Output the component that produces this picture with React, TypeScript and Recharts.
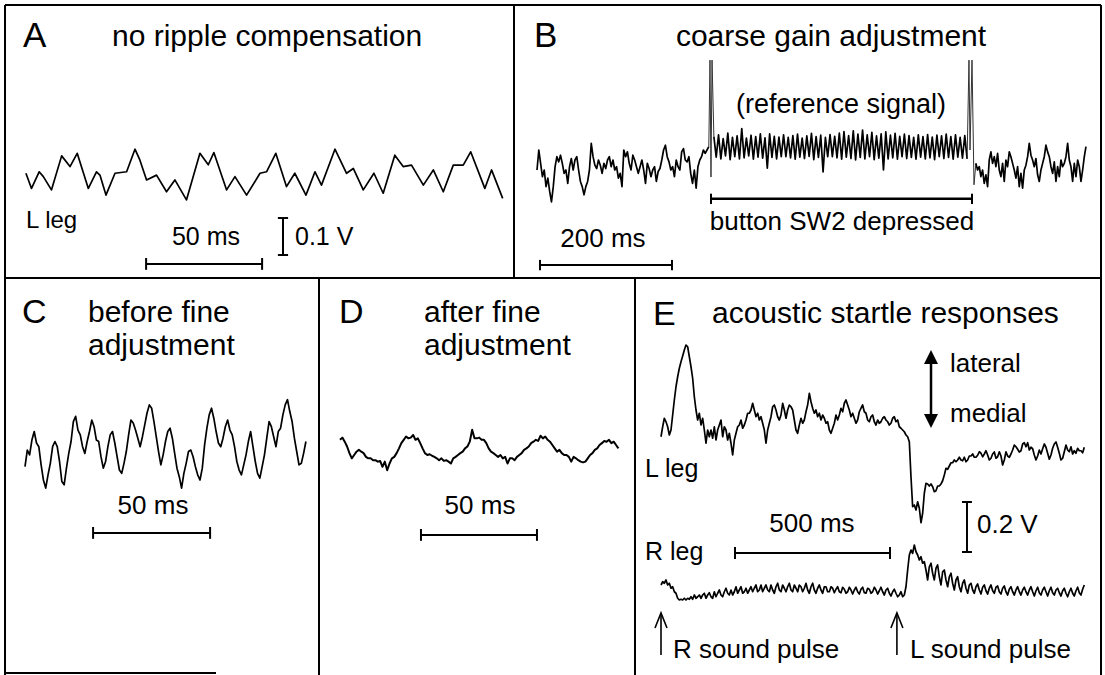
import React from "react";
import { LineChart, Line, XAxis, YAxis, ReferenceLine, ReferenceDot } from "recharts";

const W = 1105;
const H = 675;
const FONT = '"Liberation Sans", Arial, Helvetica, sans-serif';

// ---------- Panel A: no ripple compensation (t in ms, v in mV) ----------
const aTime = [0.4, 2.8, 6.1, 7.9, 11.4, 15.8, 19.4, 22.5, 27.3, 30.8, 32.3, 34.9, 38.8, 43.8, 47.4, 49.5, 52.4, 56.7, 61.0, 64.6, 69.6, 75.4, 79.0, 81.4, 86.9, 90.5, 95.5, 101.3, 104.1, 108.1, 112.7, 116.3, 121.1, 125.0, 127.8, 133.6, 138.6, 141.5, 145.8, 150.4, 154.4, 159.4, 163.0, 166.6, 171.7, 176.0, 180.3, 184.6, 188.9, 192.1, 198.2, 201.1, 205.9];
const aValue = [2, -39, 6, -7, -43, 49, 20, 56, -39, 6, -3, -57, 2, 6, 67, 38, -16, -3, -48, -16, -70, 56, 25, 58, -43, -7, -57, 2, 6, 56, -34, 2, -57, 6, -30, 67, 2, 15, -43, 2, -52, 51, 20, 24, -30, 11, -48, 24, 24, 60, -39, 11, -66];

// ---------- Panel B: coarse gain adjustment ----------
const bLeft = [0, 54, 18, -18, 0, -45, -22, -58, -86, -45, 9, 36, 22, 40, 18, -9, 0, -36, 9, 31, 0, 27, 36, 0, -31, -45, -67, -45, -31, 0, 72, 36, 13, 4, 27, 13, -9, 18, 4, 27, 36, 9, 27, 0, 9, -22, -9, -45, 54, 36, 49, 18, 0, 40, 27, 9, -9, 9, 27, 0, -36, 18, 4, -18, 0, 9, -31, -4, 4, 27, 54, 67, 36, 22, 0, 9, -18, 27, 9, 0, 49, 58, 27, 22, 36, -9, -36, 0, -49, 9, 27, 36, 54, 45, 54, 63];
const bSwitchOnTime = [260.3, 262.1, 263.6, 265.2, 268];
const bSwitchOnValue = [63, 297, -19, 297, 90];
const bRef = [90, 35, 95, 30, 85, 38, 100, 28, 88, 36, 92, 30, 112, 33, 86, 38, 94, 29, 90, 35, 98, 32, 87, 5, 98, 34, 91, 30, 89, 36, 95, 36, 88, 33, 93, 29, 97, 35, 86, 31, 92, 37, 99, 28, 90, 34, 94, -5, 88, 36, 96, 36, 91, 33, 100, 29, 104, 35, 93, 31, 106, 27, 97, 34, 108, 30, 95, 36, 102, 28, 92, 32, 98, 0, 103, 30, 94, 33, 99, 29, 91, 36, 97, 31, 93, 34, 88, 29, 95, 35, 90, 30, 96, 33, 89, 28, 94, 36, 92, 31, 97, 34, 90, 29, 95, 35, 88, 32, 93, 30];
const bSwitchOffTime = [651.7, 654.5, 656.1, 659.1, 662.1, 665];
const bSwitchOffValue = [30, 297, 54, 297, -40, 18];
const bRight = [18, 0, 9, -18, 0, -36, -13, -45, 27, 49, 18, 36, 9, 45, 0, -18, 18, -31, 27, 9, 49, 36, 18, 0, -22, 9, -45, -9, -49, 0, 13, 36, 72, 40, 27, 9, 31, -13, -31, 0, 18, 36, 67, 49, 36, 9, -9, 22, -31, 9, -18, 27, 9, 18, 36, 72, 27, 9, -31, 18, -18, 27, 9, -31, 0, 36, 63];

// ---------- Panel C: before fine adjustment ----------
const cValue = [-64, -19, -32, 8, 31, 0, -10, -59, -100, -122, -86, -55, -10, 4, -10, -50, -104, -113, -68, -28, 4, 58, 72, 35, 22, -10, -28, 4, 31, 62, 44, 8, 4, -37, -68, -50, -10, 22, 31, 0, -37, -73, -82, -55, -23, 22, 62, 54, 35, 13, -10, 17, 49, 81, 103, 94, 58, 17, -23, -59, -32, 4, 31, 40, 13, -28, -68, -91, -122, -82, -55, -23, -19, -37, -64, -86, -100, -68, -5, 40, 76, 94, 67, 31, 0, -10, 13, 44, 62, 35, 22, -10, -50, -73, -86, -59, -32, 4, 31, -10, -50, -82, -95, -64, -32, 13, 58, 44, 17, -10, 31, 40, 76, 103, 117, 85, 58, 13, -23, -59, -55, -28, 4];

// ---------- Panel D: after fine adjustment ----------
const dValue = [41, 47, 36, 23, 5, -9, 0, 9, 14, 9, 5, -5, -9, -9, -14, -14, -18, -16, -32, -18, -41, -23, -9, -5, 5, 18, 32, 41, 50, 45, 47, 54, 41, 45, 32, 18, 5, 0, 2, -2, -5, -9, -14, -9, -16, -14, -18, -23, -9, -5, 0, 5, 9, 18, 23, 36, 68, 45, 45, 47, 41, 41, 32, 18, 9, 5, 0, -5, 0, -9, -5, -23, -9, -9, -14, -5, 0, 5, 14, 18, 23, 32, 36, 41, 38, 52, 45, 50, 41, 36, 27, 18, 9, 14, 5, 0, 0, -5, -18, -5, -9, -14, -18, -20, -18, -9, 0, 5, 14, 18, 27, 32, 38, 36, 41, 32, 36, 27, 18];

// ---------- Panel E: acoustic startle responses ----------
const eLeftLeg = [
  -27, 13, 47, 33, 13, -20, 0, 60, 120, 173, 213, 247, 273, 296, 320, 340, 333, 293, 253, 207, 133, 80, 40, 67, 20,
  47, 0, -53, 0, -27, 0, -33, 13, -40, 0, 20, 40, -27, 13, 0, -40, -13, -53, -100, -40, -13, 13, 20, 40, 7, 20, 40, 67, 67, 80,
  107, 80, 53, 67, 40, 53, 27, 0, -53, 0, 27, 53, 93, 100, 80, 53, 40, 60, 107, 80, 47, 80, 100, 93, 80, 40, 0, -13, 20, 47,
  27, 40, 73, 100, 147, 113, 87, 67, 80, 53, 67, 40, 60, 47, 27, 33, 0, -13, 7, 27, 60, 40, 60, 87, 73, 107, 120, 100, 80, 53,
  67, 47, 27, 40, 73, 87, 100, 73, 67, 40, 33, 53, 60, 33, 20, 40, 27, 33, 47, 53, 40, 33, 20, 27, 47, 53, 33, 40, 13, 7,
  0, -7, -20, -27,
  -47, -187, -307, -300, -320, -287, -313, -371, -333, -253, -213, -216, -224, -216, -227, -247, -243, -224, -224, -216,
  -203, -180, -153, -157, -144, -131, -131, -120, -127, -120, -109, -120, -123, -109, -127, -120, -104, -104, -96, -109,
  -109, -101, -87, -93, -107, -96, -83, -100, -120, -113, -96, -88, -113, -107, -87, -104, -140, -120, -87, -104,
  -109, -96, -80, -60, -67, -77, -88, -83, -56, -51, -67, -51, -80, -69, -75, -100, -120, -104, -80, -96,
  -75, -56, -69, -93, -117, -100, -73, -56, -48, -69, -93, -120, -113, -87, -60, -80, -87, -67, -96, -83,
  -93, -73, -83, -83, -91, -69,
];
const eRightLeg = [
  40, 53, 47, 60, 40, 47, 27, 33, 13, 7, -13, -20, -17, -20, -13, -20, -13, -17, -7, -17,
  0, -13, -7, 0, -13, 0, 7, -13, 0, 9, -7, -13, 13, -7, 7, 20, 0, -7, 13, 27,
  7, 0, 20, 0, 13, 33, 7, 20, 33, 7, 13, 27, 7, 20, 33, 13, 27, 40, 13, 20,
  40, 13, 27, 40, 20, 13, 40, 20, 7, 33, 47, 20, 13, 40, 27, 13, 33, 47, 20, 13,
  40, 27, 13, 40, 33, 13, 27, 47, 20, 7, 33, 47, 20, 7, 27, 40, 20, 7, 33, 33,
  13, 13, 33, 27, 9, 23, 33, 13, 9, 31, 23, 7, 13, 31, 20, 4, 20, 31, 13, 4,
  23, 31, 9, 7, 27, 23, 7, 13, 31, 20, 4, 17, 31, 13, 0, 20, 27, 7, -4, 13,
  23, 7, -7, 0, 13, -7, 0, 33, 100, 160, 180, 167, 200, 173, 160, 140, 153, 127, 133, 100,
  60, 113, 127, 87, 60, 107, 120, 73, 40, 93, 100, 60, 33, 73, 87, 47, 20, 60, 73, 33,
  13, 47, 60, 27, 7, 40, 47, 20, 7, 33, 44, 20, 4, 31, 40, 17, 4, 27, 40, 17,
  7, 31, 36, 13, 4, 27, 36, 13, 0, 23, 33, 13, 0, 20, 33, 13, 0, 20, 31, 13,
  0, 20, 33, 13, -4, 17, 31, 9, 0, 20, 31, 13, -4, 17, 31, 9, 0, 20, 27, 9,
  -4, 17, 27, 7, -7, 13, 27, 7, -4, 17, 31, 9, 0, 23, 40,
];
const eSoundPulseTimes = [0, 761];

// ---------- helpers ----------
const paired = (ts: number[], vs: number[]) => vs.map((v, i) => ({ t: ts[i], v }));
const uniform = (t0: number, dt: number, vs: number[]) => vs.map((v, i) => ({ t: t0 + i * dt, v }));
const xDomain = (originPx: number, pxPerUnit: number) => [-originPx / pxPerUnit, (W - originPx) / pxPerUnit];
const yDomain = (originPx: number, pxPerUnit: number) => [-(H - originPx) / pxPerUnit, originPx / pxPerUnit];

const aData = paired(aTime, aValue);
const bLeftData = uniform(0, 2.74, bLeft);
const bOnData = paired(bSwitchOnTime, bSwitchOnValue);
const bRefData = uniform(268, 3.52, bRef);
const bOffData = paired(bSwitchOffTime, bSwitchOffValue);
const bRightData = uniform(665, 2.527, bRight);
const cData = uniform(0, 0.984, cValue);
const dData = uniform(0, 1.017, dValue);
const eLData = uniform(0, 5.376, eLeftLeg);
const eRData = uniform(0, 5.376, eRightLeg);

const X_AXES = [
  { id: "a", domain: xDomain(25, 2.32) },
  { id: "b", domain: xDomain(537, 0.66) },
  { id: "c", domain: xDomain(25, 2.34) },
  { id: "d", domain: xDomain(340, 2.32) },
  { id: "e", domain: xDomain(661, 0.31) },
];
const Y_AXES = [
  { id: "a", domain: yDomain(174, 0.37) },
  { id: "b", domain: yDomain(170, 0.37) },
  { id: "c", domain: yDomain(443, 0.37) },
  { id: "d", domain: yDomain(455, 0.37) },
  { id: "eL", domain: yDomain(430, 0.25) },
  { id: "eR", domain: yDomain(595, 0.25) },
];

const INK = "#000";

const seg = (key: string, xId: string, yId: string, x1: number, y1: number, x2: number, y2: number, w = 2) => (
  <ReferenceLine
    key={key}
    xAxisId={xId}
    yAxisId={yId}
    segment={[{ x: x1, y: y1 }, { x: x2, y: y2 }]}
    stroke={INK}
    strokeWidth={w}
    ifOverflow="visible"
  />
);

// horizontal time bar with end caps
const hBar = (k: string, xId: string, yId: string, t1: number, t2: number, v: number, cap: number, w = 2) => [
  seg(`${k}-m`, xId, yId, t1, v, t2, v, w),
  seg(`${k}-l`, xId, yId, t1, v - cap, t1, v + cap, 2),
  seg(`${k}-r`, xId, yId, t2, v - cap, t2, v + cap, 2),
];
// vertical voltage bar with end caps
const vBar = (k: string, xId: string, yId: string, t: number, v1: number, v2: number, cap: number) => [
  seg(`${k}-m`, xId, yId, t, v1, t, v2, 2),
  seg(`${k}-t`, xId, yId, t - cap, v1, t + cap, v1, 2),
  seg(`${k}-b`, xId, yId, t - cap, v2, t + cap, v2, 2),
];

const Txt = ({ x, y, size, anchor = "start", children }: any) => (
  <text x={x} y={y} fontSize={size} fontFamily={FONT} textAnchor={anchor} fill={INK}>
    {children}
  </text>
);

const triUp = (p: any) => <path d={`M${p.cx},${p.cy} L${p.cx - 7},${p.cy + 14} L${p.cx + 7},${p.cy + 14} Z`} fill={INK} />;
const triDown = (p: any) => <path d={`M${p.cx},${p.cy} L${p.cx - 7},${p.cy - 14} L${p.cx + 7},${p.cy - 14} Z`} fill={INK} />;
const openHead = (p: any) => (
  <path d={`M${p.cx - 6},${p.cy + 15} L${p.cx},${p.cy} L${p.cx + 6},${p.cy + 15}`} fill="none" stroke={INK} strokeWidth={1.6} />
);

const BORDERS = [
  [5, 5, 1101, 5],
  [5, 5, 5, 675],
  [1101, 5, 1101, 675],
  [514, 5, 514, 278],
  [5, 278, 1101, 278],
  [319, 278, 319, 675],
  [635, 278, 635, 675],
  [5, 673, 216, 673],
];

const traceProps = {
  dataKey: "v",
  dot: false,
  activeDot: false,
  isAnimationActive: false,
  type: "linear" as const,
  stroke: INK,
  strokeWidth: 1.7,
  strokeLinejoin: "round" as const,
};

export default function App() {
  return (
    <div style={{ position: "absolute", left: 0, top: 0, width: W, height: H, background: "#fff" }}>
      <LineChart width={W} height={H} margin={{ top: 0, right: 0, bottom: 0, left: 0 }}>
        {X_AXES.map((a) => (
          <XAxis key={`x-${a.id}`} xAxisId={a.id} type="number" dataKey="t" domain={a.domain} allowDataOverflow hide />
        ))}
        {Y_AXES.map((a) => (
          <YAxis key={`y-${a.id}`} yAxisId={a.id} type="number" domain={a.domain} allowDataOverflow hide />
        ))}

        {BORDERS.map((b, i) => (
          <line key={`border-${i}`} x1={b[0]} y1={b[1]} x2={b[2]} y2={b[3]} stroke={INK} strokeWidth={2} />
        ))}

        {/* traces */}
        <Line {...traceProps} data={aData} xAxisId="a" yAxisId="a" />
        <Line {...traceProps} data={bLeftData} xAxisId="b" yAxisId="b" />
        <Line {...traceProps} data={bOnData} xAxisId="b" yAxisId="b" stroke="#333" strokeWidth={1} />
        <Line {...traceProps} data={bRefData} xAxisId="b" yAxisId="b" />
        <Line {...traceProps} data={bOffData} xAxisId="b" yAxisId="b" stroke="#333" strokeWidth={1} />
        <Line {...traceProps} data={bRightData} xAxisId="b" yAxisId="b" />
        <Line {...traceProps} data={cData} xAxisId="c" yAxisId="c" />
        <Line {...traceProps} data={dData} xAxisId="d" yAxisId="d" strokeWidth={2} />
        <Line {...traceProps} data={eLData} xAxisId="e" yAxisId="eL" />
        <Line {...traceProps} data={eRData} xAxisId="e" yAxisId="eR" />

        {/* scale bars */}
        {hBar("a50", "a", "a", 52.2, 102.2, -243, 16)}
        {vBar("a01", "a", "a", 111.2, -119, -219, 2.2)}
        {hBar("bsw", "b", "b", 263.6, 659.1, -78, 14, 2.5)}
        {hBar("b200", "b", "b", 4.5, 204.5, -257, 14)}
        {hBar("c50", "c", "c", 29.1, 79.1, -243, 16)}
        {hBar("d50", "d", "d", 34.9, 84.9, -216, 16)}
        {hBar("e500", "e", "eR", 238.7, 738.7, 168, 24)}
        {vBar("e02", "e", "eL", 987, -288, -488, 16)}

        {/* lateral / medial double arrow */}
        {seg("latmed", "e", "eL", 871, 270, 871, 58, 2.5)}
        <ReferenceDot xAxisId="e" yAxisId="eL" x={871} y={320} r={0} shape={triUp} ifOverflow="visible" />
        <ReferenceDot xAxisId="e" yAxisId="eL" x={871} y={8} r={0} shape={triDown} ifOverflow="visible" />

        {/* sound pulse arrows */}
        {eSoundPulseTimes.map((t) => seg(`pulse-${t}`, "e", "eR", t, -72, t, -240, 1.6))}
        {eSoundPulseTimes.map((t) => (
          <ReferenceDot key={`ph-${t}`} xAxisId="e" yAxisId="eR" x={t} y={-72} r={0} shape={openHead} ifOverflow="visible" />
        ))}

        {/* text: panel A */}
        <Txt x={23} y={47} size={35}>A</Txt>
        <Txt x={112} y={46} size={30}>no ripple compensation</Txt>
        <Txt x={26} y={228} size={24}>L leg</Txt>
        <Txt x={206} y={245} size={25} anchor="middle">50 ms</Txt>
        <Txt x={295} y={245} size={25}>0.1 V</Txt>

        {/* panel B */}
        <Txt x={534} y={47} size={35}>B</Txt>
        <Txt x={831} y={46} size={30} anchor="middle">coarse gain adjustment</Txt>
        <Txt x={841} y={113} size={27} anchor="middle">(reference signal)</Txt>
        <Txt x={842} y={230} size={26} anchor="middle">button SW2 depressed</Txt>
        <Txt x={603} y={247} size={26} anchor="middle">200 ms</Txt>

        {/* panel C */}
        <Txt x={22} y={323} size={34}>C</Txt>
        <Txt x={88} y={322} size={30}>before fine</Txt>
        <Txt x={88} y={355} size={30}>adjustment</Txt>
        <Txt x={153} y={514} size={26} anchor="middle">50 ms</Txt>

        {/* panel D */}
        <Txt x={339} y={323} size={34}>D</Txt>
        <Txt x={424} y={322} size={30}>after fine</Txt>
        <Txt x={424} y={355} size={30}>adjustment</Txt>
        <Txt x={480} y={514} size={26} anchor="middle">50 ms</Txt>

        {/* panel E */}
        <Txt x={653} y={325} size={34}>E</Txt>
        <Txt x={712} y={323} size={30}>acoustic startle responses</Txt>
        <Txt x={950} y={372} size={26}>lateral</Txt>
        <Txt x={950} y={422} size={26}>medial</Txt>
        <Txt x={645} y={477} size={25}>L leg</Txt>
        <Txt x={977} y={533} size={26}>0.2 V</Txt>
        <Txt x={812} y={532} size={26} anchor="middle">500 ms</Txt>
        <Txt x={645} y={560} size={25}>R leg</Txt>
        <Txt x={673} y={658} size={26}>R sound pulse</Txt>
        <Txt x={910} y={658} size={26}>L sound pulse</Txt>
      </LineChart>
    </div>
  );
}
